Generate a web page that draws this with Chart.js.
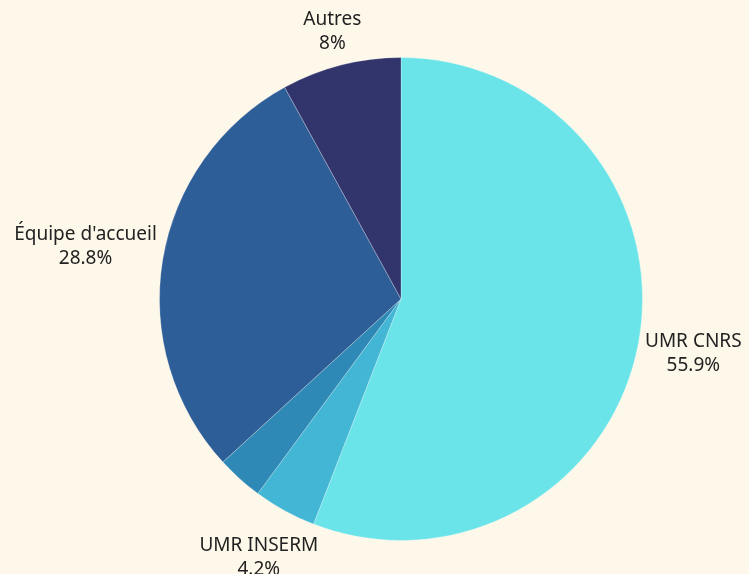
<!DOCTYPE html>
<html>
<head>
<meta charset="utf-8">
<script src="https://cdn.jsdelivr.net/npm/chart.js@4"></script>
<style>
  html, body { margin: 0; padding: 0; background: #fef8ea; }
  #wrap { width: 749px; height: 574px; }
</style>
</head>
<body>
<div id="wrap"><canvas id="pieChart"></canvas></div>
<script>
const categories = ["UMR CNRS", "UMR INSERM", "", "Équipe d'accueil", "Autres"];
const shares = [55.9, 4.2, 3.1, 28.8, 8];
const shareLabels = ["55.9%", "4.2%", "", "28.8%", "8%"];
const sliceColors = ["#6ae4e8", "#42b6d4", "#2e89b6", "#2e5e97", "#31356c"];

// labels sit just outside the rim, pushed out by the half-size of the text block
const outsideLabels = {
  id: "outsideLabels",
  afterDraw(chart) {
    const ctx = chart.ctx;
    const meta = chart.getDatasetMeta(0);
    ctx.save();
    ctx.font = "19px 'Noto Sans'";
    ctx.fillStyle = "#222222";
    ctx.textAlign = "center";
    ctx.textBaseline = "middle";
    meta.data.forEach((arc, i) => {
      if (!categories[i]) return;
      const mid = (arc.startAngle + arc.endAngle) / 2;
      const dx = Math.cos(mid);
      const dy = Math.sin(mid);
      const w = Math.max(ctx.measureText(categories[i]).width, ctx.measureText(shareLabels[i]).width);
      const h = 48;
      const dist = arc.outerRadius + 4 + Math.abs(dx) * w / 2 + Math.abs(dy) * h / 2;
      const cx = arc.x + dx * dist;
      const cy = arc.y + dy * dist;
      ctx.fillText(categories[i], cx, cy - 12);
      ctx.fillText(shareLabels[i], cx, cy + 12);
    });
    ctx.restore();
  },
};

new Chart(document.getElementById("pieChart"), {
  type: "pie",
  data: {
    labels: categories,
    datasets: [
      {
        data: shares,
        backgroundColor: sliceColors,
        borderColor: "rgba(255,255,255,0.25)",
        borderWidth: 1,
      },
    ],
  },
  options: {
    responsive: true,
    maintainAspectRatio: false,
    animation: false,
    layout: { padding: { top: 57, bottom: 33, left: 53, right: 0 } },
    plugins: {
      legend: { display: false },
      tooltip: { enabled: false },
    },
  },
  plugins: [outsideLabels],
});
</script>
</body>
</html>
